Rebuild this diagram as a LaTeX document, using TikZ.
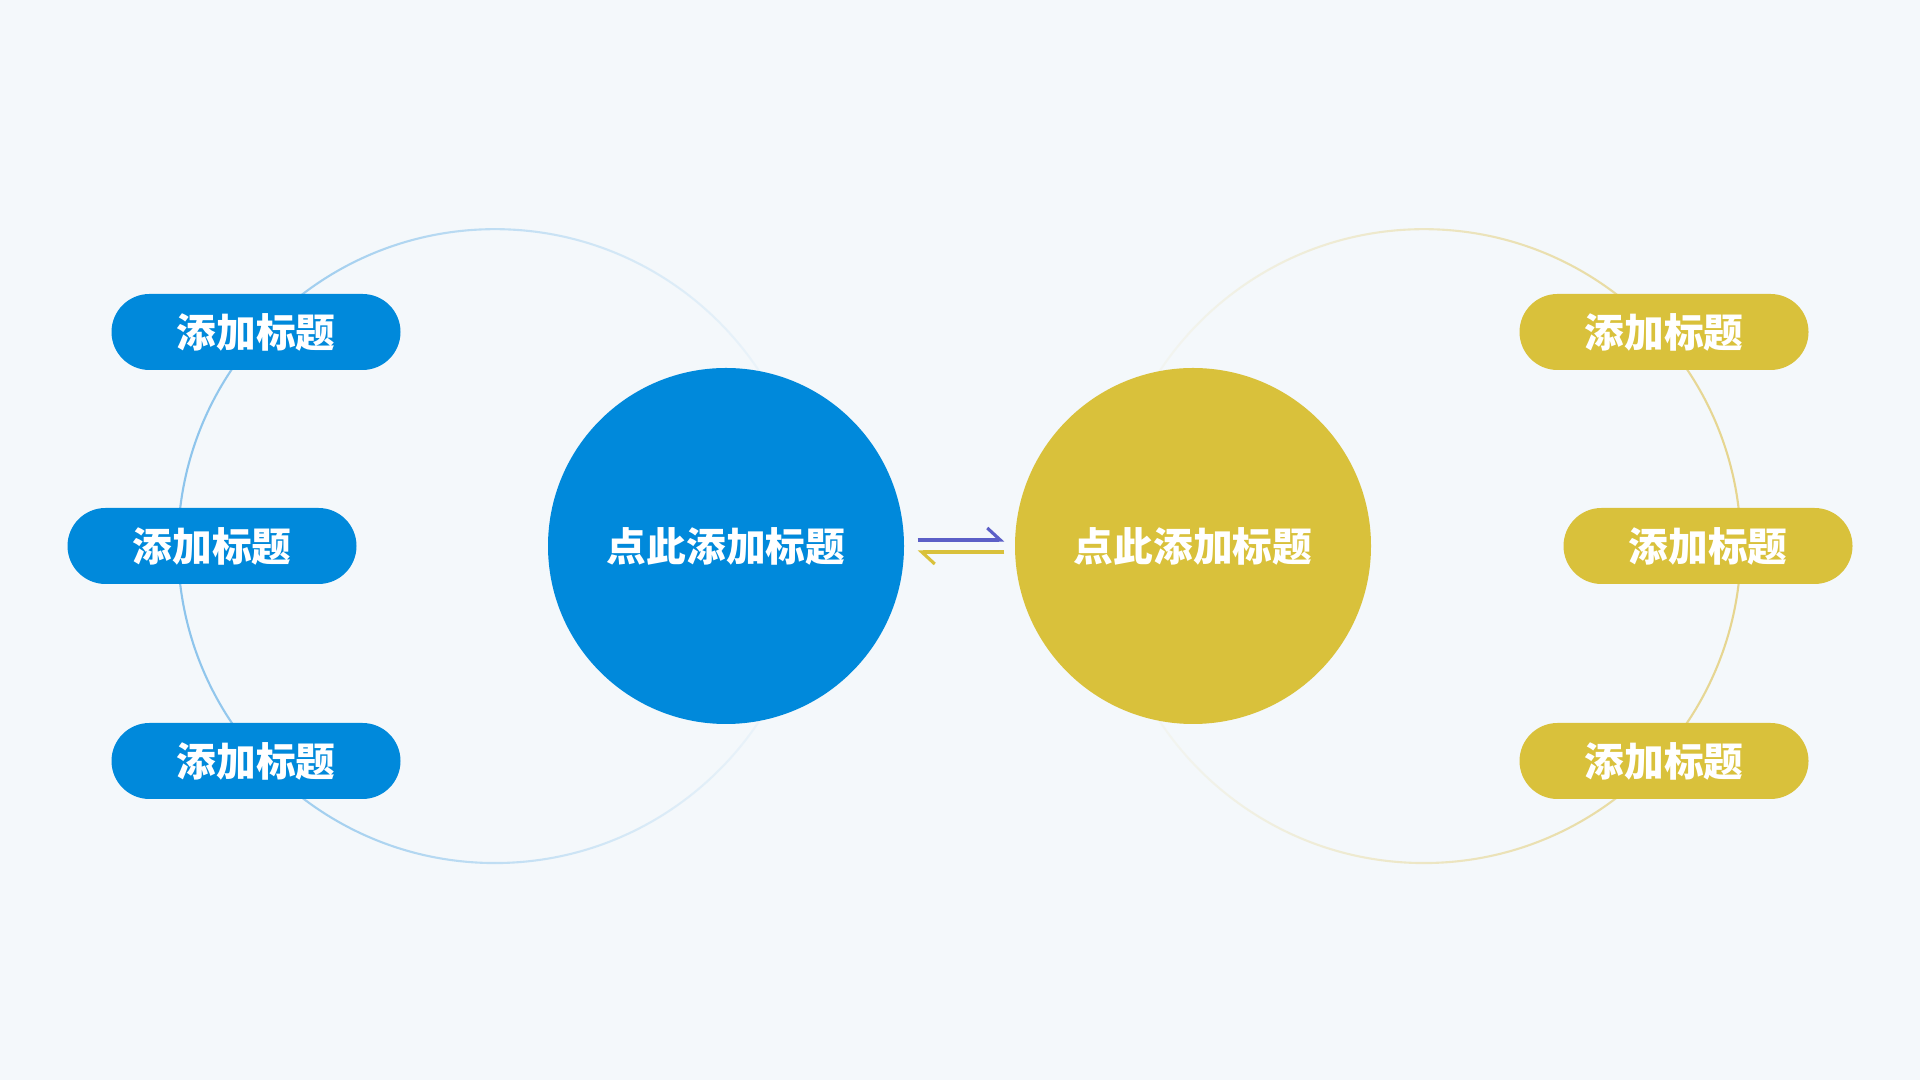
\documentclass[tikz,border=0pt]{standalone}
\usepackage{fontspec}
\newfontfamily\cjk{Noto Sans CJK SC}[BoldFont={Noto Sans CJK SC Black}]
\usetikzlibrary{arrows.meta,fadings}
\definecolor{bgc}{HTML}{F4F8FB}
\definecolor{blu}{HTML}{0089DB}
\definecolor{ylw}{HTML}{D9C13B}
\definecolor{ringblu}{HTML}{8CC4EC}
\definecolor{ringylw}{HTML}{E6D58E}
\definecolor{arrblu}{HTML}{5B5FC7}
\tikzfading[name=ringfadeL,left color=transparent!0,right color=transparent!100]
\tikzfading[name=ringfadeR,left color=transparent!100,right color=transparent!0]
\tikzset{
  lbl/.style={text=white,inner sep=0pt,font=\cjk\bfseries\fontsize{11.3}{13}\selectfont},
  pill/.style={lbl,fill=#1,rounded corners=0.38cm,minimum width=2.89cm,minimum height=0.76cm},
  bigc/.style={lbl,circle,fill=#1,minimum size=3.56cm},
  harp/.style={#1,line width=0.9pt,-{Straight Barb[left,length=0.13cm,width=0.24cm]}}
}
\begin{document}
\begin{tikzpicture}
\fill[bgc](0,0)rectangle(19.2,10.8);
%rings
\draw[ringblu,line width=0.6pt,path fading=ringfadeL](4.95,5.34)circle(3.17);
\draw[ringylw,line width=0.6pt,path fading=ringfadeR](14.24,5.34)circle(3.17);
%centre circles
\node[bigc=blu](bigL)at(7.26,5.34){点此添加标题};
\node[bigc=ylw](bigR)at(11.93,5.34){点此添加标题};
%titles
\node[pill=blu](tL1)at(2.56,7.48){添加标题};
\node[pill=blu](tL2)at(2.12,5.34){添加标题};
\node[pill=blu](tL3)at(2.56,3.19){添加标题};
\node[pill=ylw](tR1)at(16.64,7.48){添加标题};
\node[pill=ylw](tR2)at(17.08,5.34){添加标题};
\node[pill=ylw](tR3)at(16.64,3.19){添加标题};
%arrows
\draw[harp=arrblu,shorten <=0.13cm,shorten >=0.1cm]([yshift=0.06cm]bigL.east)--([yshift=0.06cm]bigR.west);
\draw[harp=ylw,shorten <=0.1cm,shorten >=0.13cm]([yshift=-0.06cm]bigR.west)--([yshift=-0.06cm]bigL.east);
\end{tikzpicture}
\end{document}
